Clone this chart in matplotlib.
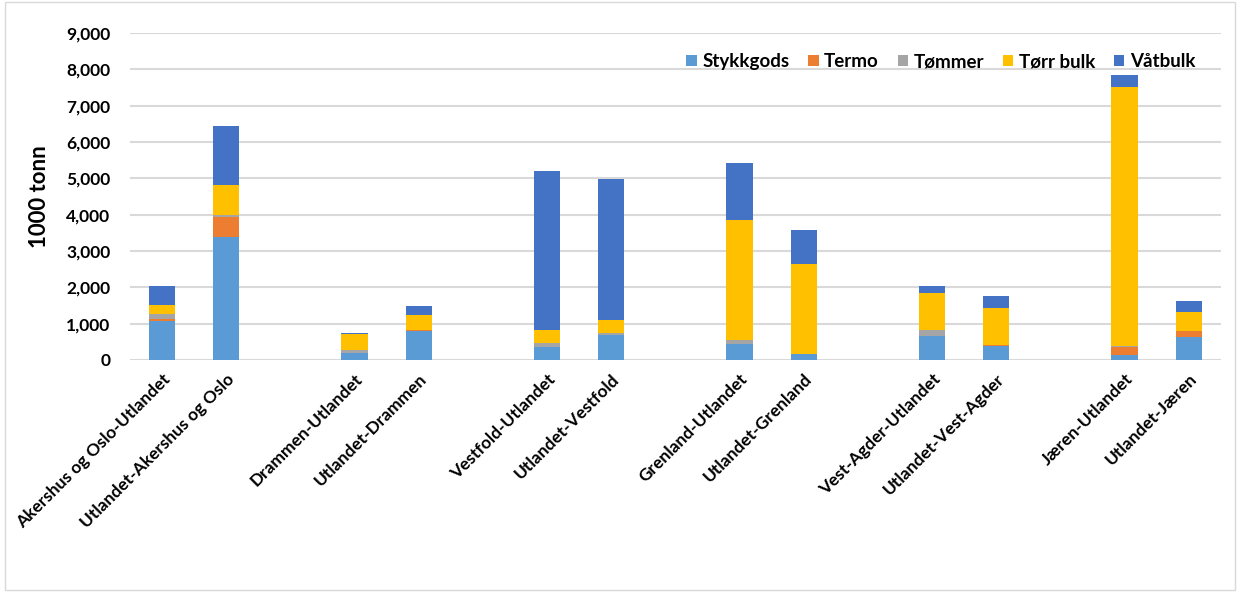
import matplotlib.pyplot as plt
import numpy as np
from matplotlib.patches import Rectangle
from matplotlib.ticker import FuncFormatter

plt.rcParams['font.family'] = ['Lato', 'DejaVu Sans']

# Routes (pairs, separated by an empty slot)
routes = ["Akershus og Oslo-Utlandet", "Utlandet-Akershus og Oslo",
          "Drammen-Utlandet", "Utlandet-Drammen",
          "Vestfold-Utlandet", "Utlandet-Vestfold",
          "Grenland-Utlandet", "Utlandet-Grenland",
          "Vest-Agder-Utlandet", "Utlandet-Vest-Agder",
          "Jæren-Utlandet", "Utlandet-Jæren"]

# 1000 tonn
stykkgods = [1070, 3390, 180, 810, 365, 680, 450, 175, 670, 395, 140, 635]
termo     = [60, 560, 10, 10, 0, 20, 0, 0, 0, 20, 220, 165]
tommer    = [145, 30, 85, 0, 90, 30, 110, 0, 155, 0, 35, 0]
torr_bulk = [240, 840, 435, 420, 375, 380, 3300, 2475, 1020, 1015, 7135, 520]
vatbulk   = [530, 1610, 35, 245, 4385, 3880, 1570, 930, 195, 330, 320, 310]

series = [("Stykkgods", stykkgods, "#5B9BD5"),
          ("Termo", termo, "#ED7D31"),
          ("Tømmer", tommer, "#A5A5A5"),
          ("Tørr bulk", torr_bulk, "#FFC000"),
          ("Våtbulk", vatbulk, "#4472C4")]

# pair i occupies slots 3*i and 3*i+1, leaving one empty slot between pairs
x = np.array([3 * (i // 2) + (i % 2) for i in range(len(routes))])

fig = plt.figure(figsize=(12.37, 5.92), dpi=100)
ax = fig.add_axes([0.105, 0.392, 0.882, 0.552])

bottom = np.zeros(len(routes))
for name, vals, color in series:
    ax.bar(x, vals, width=0.41, bottom=bottom, color=color, label=name, zorder=3)
    bottom += np.array(vals)

ax.set_ylim(0, 9000)
ax.set_xlim(-0.5, x.max() + 0.5)
ax.set_yticks(np.arange(0, 9001, 1000))
ax.yaxis.set_major_formatter(FuncFormatter(lambda v, p: f"{int(v):,}"))
ax.grid(axis='y', color='#d9d9d9', linewidth=1.5, zorder=0)
for s in ax.spines.values():
    s.set_visible(False)
ax.tick_params(axis='both', length=0, labelsize=12.5)
ax.tick_params(axis='y', pad=14)
for lbl in ax.get_yticklabels():
    lbl.set_fontweight('bold')

ax.set_xticks(x)
ax.set_xticklabels(routes, rotation=45, ha='right', rotation_mode='anchor',
                   fontsize=12.5, fontweight='bold')
ax.tick_params(axis='x', pad=8)

ax.set_ylabel("1000 tonn", fontsize=16, fontweight='bold', labelpad=12)

ax.legend(loc='upper right', bbox_to_anchor=(0.992, 0.99), ncol=5, frameon=False,
          prop={'weight': 'bold', 'size': 13.5}, handlelength=0.55, handleheight=0.55,
          handletextpad=0.3, columnspacing=1.0)

fig.patches.append(Rectangle((0.004, 0.003), 0.994, 0.994, transform=fig.transFigure,
                             fill=False, edgecolor='#d9d9d9', linewidth=1))

fig.savefig("out.png", dpi=100)
